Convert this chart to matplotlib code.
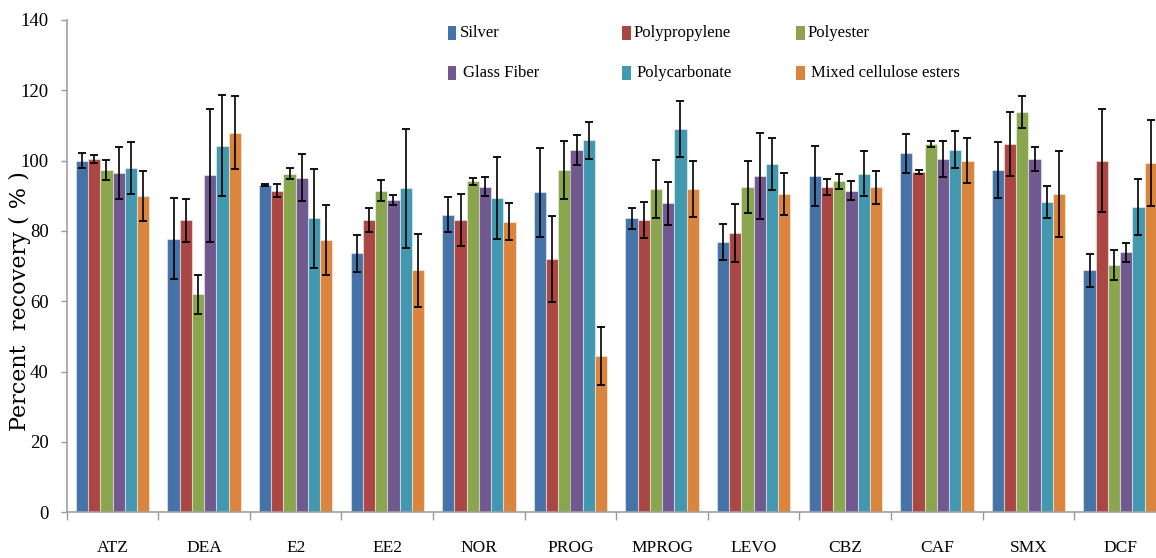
import matplotlib
matplotlib.use("Agg")
import matplotlib.pyplot as plt
import numpy as np
from matplotlib.patches import Rectangle

categories = ["ATZ", "DEA", "E2", "EE2", "NOR", "PROG", "MPROG", "LEVO", "CBZ", "CAF", "SMX", "DCF"]
series_names = ["Silver", "Polypropylene", "Polyester", "Glass Fiber", "Polycarbonate", "Mixed cellulose esters"]

silver        = [100.0, 77.8, 93.0, 73.7, 84.6, 91.0, 83.6, 76.8, 95.7, 102.1, 97.4, 68.8]
polypropylene = [100.5, 83.1, 91.5, 83.1, 83.1, 72.0, 83.1, 79.4, 92.5, 96.8, 104.7, 100.0]
polyester     = [97.4, 62.0, 96.3, 91.5, 94.1, 97.4, 92.0, 92.6, 94.1, 104.7, 113.8, 70.3]
glass_fiber   = [96.4, 95.8, 95.2, 88.8, 92.6, 103.1, 87.9, 95.7, 91.5, 100.5, 100.5, 74.0]
polycarbonate = [97.9, 104.3, 83.6, 92.1, 89.4, 105.8, 109.0, 99.0, 96.3, 103.1, 88.3, 86.8]
mixed_cell    = [90.0, 108.0, 77.4, 68.8, 82.6, 44.5, 92.0, 90.5, 92.5, 100.0, 90.5, 99.4]

silver_err        = [2.1, 11.5, 0.3, 5.3, 5.0, 12.7, 2.9, 5.1, 8.5, 5.6, 8.0, 4.7]
polypropylene_err = [1.2, 6.1, 1.9, 3.5, 7.4, 12.2, 5.1, 8.2, 2.4, 0.5, 9.0, 14.6]
polyester_err     = [2.9, 5.5, 1.6, 3.1, 1.1, 8.2, 8.2, 7.4, 2.1, 0.9, 4.5, 4.2]
glass_fiber_err   = [7.4, 18.8, 6.6, 1.3, 2.7, 4.2, 6.1, 12.2, 2.6, 5.1, 3.5, 2.7]
polycarbonate_err = [7.4, 14.3, 14.1, 17.0, 11.6, 5.3, 8.0, 7.4, 6.4, 5.3, 4.5, 7.9]
mixed_cell_err    = [7.1, 10.3, 10.0, 10.4, 5.3, 8.2, 8.0, 5.9, 4.7, 6.4, 12.2, 12.2]

y_ticks = [0, 20, 40, 60, 80, 100, 120, 140]

values = [silver, polypropylene, polyester, glass_fiber, polycarbonate, mixed_cell]
errors = [silver_err, polypropylene_err, polyester_err, glass_fiber_err, polycarbonate_err, mixed_cell_err]
colors = ["#4572A7", "#AA4643", "#89A54E", "#71588F", "#4198AF", "#DB843D"]

W, H = 1156, 558
fig = plt.figure(figsize=(W / 100, H / 100), dpi=100)
left_px, right_px, top_px, bottom_px = 66.7, 66.7 + 12 * 91.6, 20.0, 512.3
ax = fig.add_axes([left_px / W, 1 - bottom_px / H, (right_px - left_px) / W, (bottom_px - top_px) / H])

serif = ["Liberation Serif", "DejaVu Serif"]
n = len(series_names)
bw = 1 / 7.5
x = np.arange(len(categories))
for j in range(n):
    pos = x + (j - (n - 1) / 2) * bw
    ax.bar(pos, values[j], width=bw, color=colors[j], edgecolor=(1, 1, 1, 0.45), linewidth=0.8, zorder=2)
    ax.errorbar(pos, values[j], yerr=errors[j], fmt="none", ecolor="black",
                elinewidth=1.2, capsize=3.0, capthick=1.3, zorder=3)

ax.set_xlim(-0.5, len(categories) - 0.5)
ax.set_ylim(0, 140)
ax.set_yticks(y_ticks)
ax.set_yticklabels([str(t) for t in y_ticks], family=serif, fontsize=13.5)
ax.set_xticks(np.arange(len(categories) + 1) - 0.5)
ax.set_xticklabels([])
ax.set_xticks(x, minor=True)
ax.set_xticklabels(categories, minor=True, family=serif, fontsize=12.5)
ax.tick_params(axis="x", which="major", length=6, width=1, color="#999999", direction="out")
ax.tick_params(axis="x", which="minor", length=0, pad=20)
ax.tick_params(axis="y", length=4, width=1, color="#999999", direction="out", pad=9)

for s in ["top", "right"]:
    ax.spines[s].set_visible(False)
for s in ["left", "bottom"]:
    ax.spines[s].set_color("#A0A0A0")
    ax.spines[s].set_linewidth(1.2)

fig.text(20 / W, 1 - 301 / H, "Percent  recovery ( % )", rotation=90, ha="center", va="center",
         family=["DejaVu Serif"], fontsize=16)

# legend (manual, Excel-like grid)
col_x = [448, 622, 796]
row_y = [33, 73]
order = [(0, 0), (0, 1), (0, 2), (1, 0), (1, 1), (1, 2)]
for j, (r, c) in enumerate(order):
    sx = col_x[c]
    sy = row_y[r]
    fig.patches.append(Rectangle((sx / W, 1 - (sy + 7) / H), 8.5 / W, 14 / H,
                                 transform=fig.transFigure, facecolor=colors[j], edgecolor="none"))
    fig.text((sx + 12 + (3 if r == 1 else 0)) / W, 1 - sy / H, series_names[j], ha="left", va="center",
             family=serif, fontsize=12)

fig.savefig("out.png", dpi=100)
